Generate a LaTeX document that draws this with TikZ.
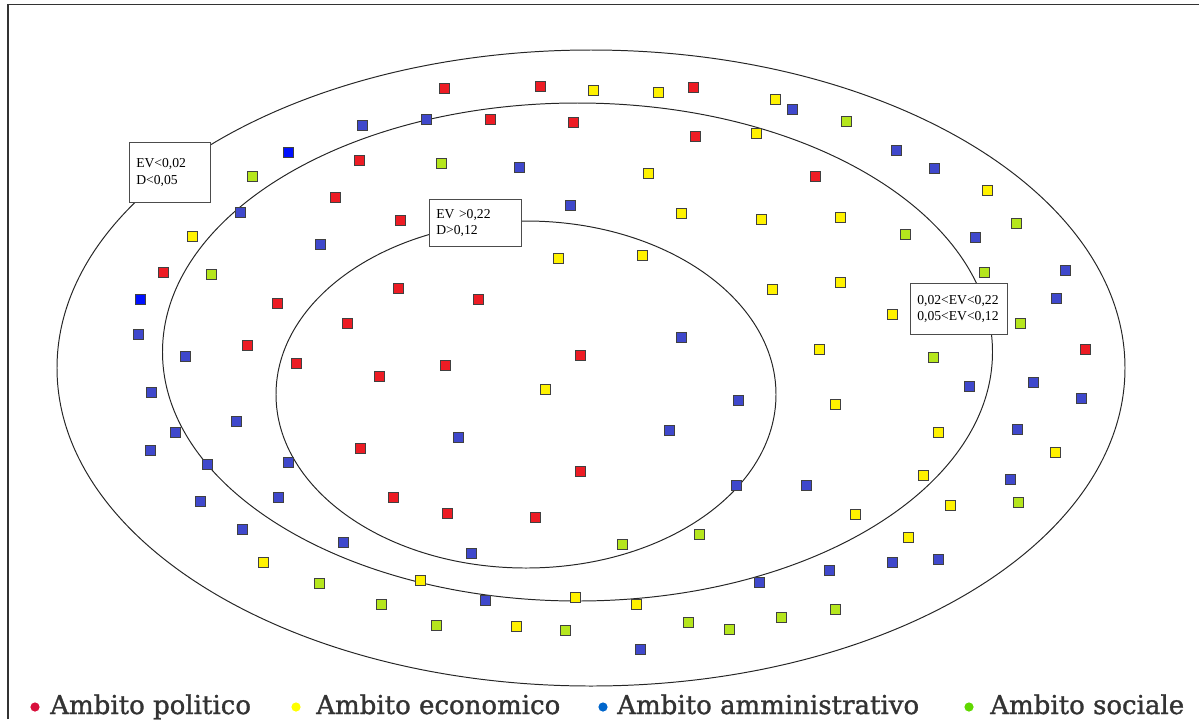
\documentclass[tikz,border=0pt]{standalone}
\usepackage{fontspec}
\setmainfont{Liberation Serif}
\newfontfamily\legfont[FakeBold=1.2]{DejaVu Serif}
\definecolor{cR}{HTML}{ED1C24}
\definecolor{cY}{HTML}{FFF200}
\definecolor{cB}{HTML}{3F48CC}
\definecolor{cK}{HTML}{0010FF}
\definecolor{cG}{HTML}{B5E61D}
\definecolor{lR}{HTML}{D8103C}
\definecolor{lY}{HTML}{FFFF00}
\definecolor{lB}{HTML}{0066CC}
\definecolor{lG}{HTML}{60D800}
\tikzset{
  sq/.style={rectangle, draw=black!75, line width=0.6pt, minimum size=0.25cm, inner sep=0pt},
  ring/.style={draw=black!85, line width=0.7pt},
  infobox/.style={rectangle, draw=black!70, line width=0.7pt, fill=white, align=left,
     font=\fontsize{9.7}{12}\selectfont, inner xsep=0.17cm, inner ysep=0pt, anchor=north west},
  legdot/.style={circle, inner sep=0pt, minimum size=0.23cm},
  legtext/.style={anchor=base west, inner sep=0pt, font=\legfont\fontsize{18.5}{20}\selectfont, text=black!80},
  frameline/.style={draw=black!80, line width=1.1pt}
}
\begin{document}
\begin{tikzpicture}[x=0.025cm,y=-0.025cm]
\useasboundingbox (0,0) rectangle (1199,719);
\coordinate (f1) at (8,4.5);
\coordinate (f2) at (1199,4.5);
\coordinate (f3) at (8,719);
\draw[frameline] (f3) -- (f1) -- (f2);
% rings
\draw[ring] (591,368) ellipse [x radius=534, y radius=318];
\draw[ring] (577.5,352) ellipse [x radius=415, y radius=249];
\draw[ring] (526,394.5) ellipse [x radius=250, y radius=173.5];
% squares
\foreach \x/\y/\c [count=\i] in {
444/88/cR, 540/86/cR, 593/90/cY, 658/92/cY, 693/87/cR, 775/99/cY, 792/109/cB, 846/121/cG,
362/125/cB, 426/119/cB, 490/119/cR, 573/122/cR, 756/133/cY, 695/136/cR,
288/152/cK, 359/160/cR, 441/163/cG, 519/167/cB, 648/173/cY, 815/176/cR, 896/150/cB, 934/168/cB,
252/176/cG, 987/190/cY, 335/197/cR, 240/212/cB, 570/205/cB, 681/213/cY, 761/219/cY, 840/217/cY,
400/220/cR, 1016/223/cG, 905/234/cG, 975/237/cB, 192/236/cY, 320/244/cB, 558/258/cY, 642/255/cY,
163/272/cR, 211/274/cG, 984/272/cG, 1065/270/cB, 398/288/cR, 478/299/cR, 277/303/cR, 772/289/cY,
840/282/cY, 140/299/cK, 1056/298/cB, 892/314/cY, 1020/323/cG, 347/323/cR, 138/334/cB, 681/337/cB,
247/345/cR, 819/349/cY, 1085/349/cR, 185/356/cB, 296/363/cR, 445/365/cR, 580/355/cR, 933/357/cG,
379/376/cR, 545/389/cY, 969/386/cB, 1033/382/cB, 151/392/cB, 738/400/cB, 835/404/cY, 1081/398/cB,
236/421/cB, 175/432/cB, 669/430/cB, 458/437/cB, 938/432/cY, 1017/429/cB, 360/448/cR, 150/450/cB,
1055/452/cY, 207/464/cB, 288/462/cB, 580/471/cR, 923/475/cY, 1010/479/cB, 736/485/cB, 806/485/cB,
278/497/cB, 393/497/cR, 200/501/cB, 1018/502/cG, 950/505/cY, 447/513/cR, 535/517/cR, 855/514/cY,
242/529/cB, 699/534/cG, 908/537/cY, 343/542/cB, 622/544/cG, 471/553/cB, 263/562/cY, 892/562/cB,
938/559/cB, 829/570/cB, 319/583/cG, 420/580/cY, 759/582/cB, 575/597/cY, 485/600/cB, 381/604/cG,
636/604/cY, 835/609/cG, 781/617/cG, 436/625/cG, 516/626/cY, 565/630/cG, 688/622/cG, 729/629/cG,
640/649/cB}
  {\node[sq, fill=\c] (s\i) at (\x,\y) {};}
% info boxes
\node[infobox, text width=1.675cm, minimum height=1.5cm] (b1) at (129,142) {EV<0,02\\D<0,05};
\node[infobox, text width=1.95cm, minimum height=1.175cm] (b2) at (429,199) {EV >0,22\\D>0,12};
\node[infobox, text width=2.075cm, minimum height=1.275cm] (b3) at (910,283) {0,02<EV<0,22\\0,05<EV<0,12};
% legend
\node[legdot, fill=lR] (d1) at (35,707) {};
\node[legtext] (t1) at (50,714) {Ambito politico};
\node[legdot, fill=lY] (d2) at (296,707) {};
\node[legtext] (t2) at (316,714) {Ambito economico};
\node[legdot, fill=lB] (d3) at (603,707) {};
\node[legtext] (t3) at (617,714) {Ambito amministrativo};
\node[legdot, fill=lG] (d4) at (969,707) {};
\node[legtext] (t4) at (990,714) {Ambito sociale};
\end{tikzpicture}
\end{document}
